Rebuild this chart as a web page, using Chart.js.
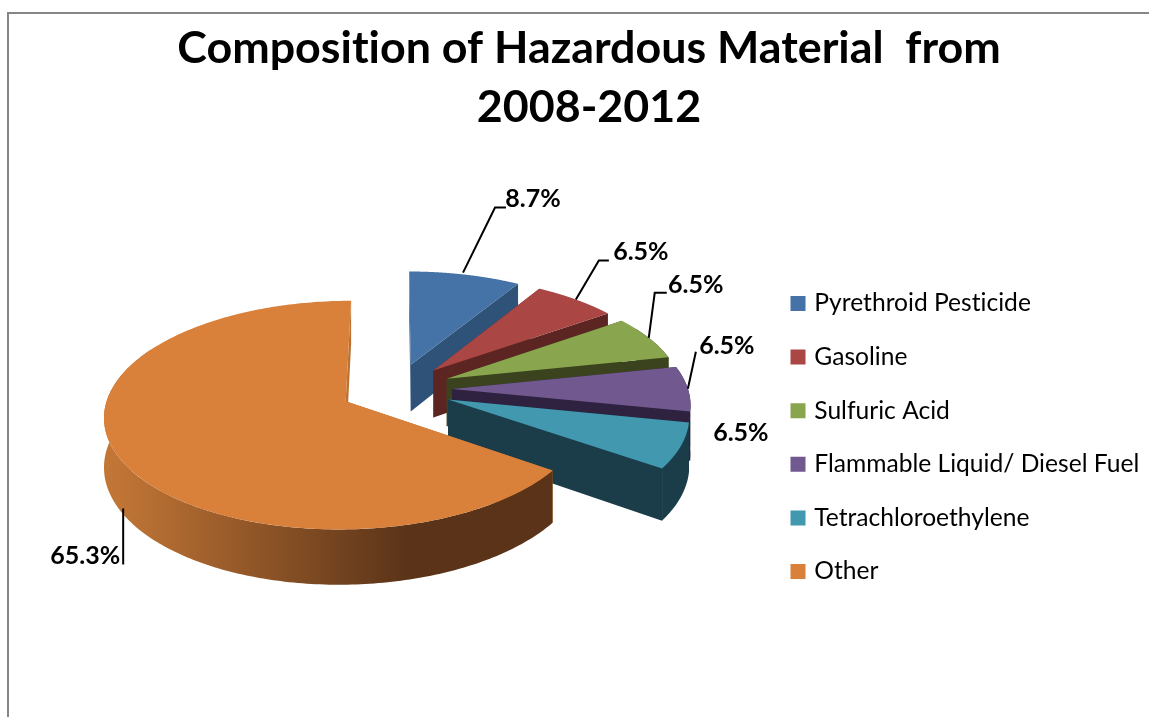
<!DOCTYPE html>
<html>
<head>
<meta charset="utf-8">
<title>Composition of Hazardous Material</title>
<script src="https://cdn.jsdelivr.net/npm/chart.js@4/dist/chart.umd.min.js"></script>
<style>
    html, body { margin: 0; background: #fff; overflow: hidden; }
    #frame {
        position: absolute; left: 7px; top: 12px; width: 1142px; height: 705px;
        border-left: 2px solid #868686; border-top: 2px solid #868686; overflow: hidden;
    }
    canvas { display: block; }
</style>
</head>
<body>
<div id="frame"><canvas id="pie-chart" width="1182" height="703"></canvas></div>
<script>
const categorias = ['Pyrethroid Pesticide', 'Gasoline', 'Sulfuric Acid', 'Flammable Liquid/ Diesel Fuel', 'Tetrachloroethylene', 'Other'];
const valores = [8.7, 6.5, 6.5, 6.5, 6.5, 65.3];
const titulo = ['Composition of Hazardous Material  from', '2008-2012'];

const coresTopo = ['#4572A7', '#AA4643', '#89A54E', '#71588F', '#4198AF', '#D9803B'];
const coresLado = ['#2F5278', '#5C2522', '#3A431E', '#2E2240', '#1B3C49', '#B9722F'];

// flat pie -> tilted view, the numbers were fitted on the picture
const vista = { explode: 56, k: 0.465, p: 0.000504, altura: 48, dx: 0 };
// leader line points and label centre, relative to the rim point of each slice
const guias = [
    [[[-2, -2], [30, -67], [41, -67]], [68, -76]],
    [[[0, 0], [23, -39], [33, -39]], [65, -48]],
    [[[0, 0], [6, -45], [18, -45]], [47, -53]],
    [[[0, 0], [8, -37]], [39, -43]],
    [[], [60, -13]],
    [[[5, 52], [5, 108]], [-33, 99]]
];

const pizza3d = {
    id: 'pizza3d',
    beforeDraw(chart) {
        // no "ti" ligature in the texts
        chart.ctx.textRendering = 'optimizeSpeed';
    },
    afterLayout(chart) {
        chart.legend.left = 756;
        chart.legend.top += 110;
        chart.legend.bottom += 110;
        vista.dx = 396 - 9 - (chart.chartArea.left + chart.chartArea.right) / 2;
    },
    beforeDatasetDraw(chart, args) {
        const ctx = chart.ctx;
        const arcos = args.meta.data;

        arcos.forEach((arco, i) => {
            const meio = (arco.startAngle + arco.endAngle) / 2;
            const ox = vista.explode * Math.cos(meio);
            const oy = vista.explode * Math.sin(meio);

            const projeta = (x, y, h) => {
                const u = x - arco.x + ox;
                const v = y - arco.y + oy;
                const w = 1 / (1 - vista.p * v);
                return { x: arco.x + vista.dx + u * w, y: arco.y + v * vista.k * w + (h || 0) * w };
            };
            const borda = (a, h) => projeta(
                arco.x + arco.outerRadius * Math.cos(a),
                arco.y + arco.outerRadius * Math.sin(a), h);

            // walls first
            const poligono = (pontos, cor) => {
                ctx.beginPath();
                pontos.forEach(p => ctx.lineTo(p.x, p.y));
                ctx.closePath();
                ctx.fillStyle = cor;
                ctx.fill();
            };
            const centro = h => projeta(arco.x, arco.y, h);
            const H = vista.altura;
            poligono([centro(0), borda(arco.startAngle, 0), borda(arco.startAngle, H), centro(H)], coresLado[i]);
            poligono([centro(0), borda(arco.endAngle, 0), borda(arco.endAngle, H), centro(H)], coresLado[i]);

            const topo = [], baixo = [];
            const passos = Math.ceil((arco.endAngle - arco.startAngle) * 60);
            for (let n = 0; n <= passos; n++) {
                const a = arco.startAngle + (arco.endAngle - arco.startAngle) * n / passos;
                // the back of the rim is never seen
                if (Math.sin(a) < -0.5) continue;
                topo.push(borda(a, 0));
                baixo.unshift(borda(a, H));
            }
            let corBorda = coresLado[i];
            if (i === arcos.length - 1) {
                corBorda = ctx.createLinearGradient(105, 0, 400, 0);
                corBorda.addColorStop(0, '#C27636');
                corBorda.addColorStop(1, '#5A3318');
            }
            poligono(topo.concat(baixo), corBorda);

            // top face: the library draws the arc, its path goes through the projection
            const lineToOriginal = CanvasRenderingContext2D.prototype.lineTo;
            ctx.lineTo = (x, y) => {
                const p = projeta(x, y);
                lineToOriginal.call(ctx, p.x, p.y);
            };
            ctx.moveTo = ctx.lineTo;
            ctx.arc = (x, y, r, a0, a1) => {
                const n = 120;
                for (let j = 0; j <= n; j++) {
                    const a = a0 + (a1 - a0) * j / n;
                    ctx.lineTo(x + r * Math.cos(a), y + r * Math.sin(a));
                }
            };
            arco.draw(ctx);
            delete ctx.lineTo;
            delete ctx.moveTo;
            delete ctx.arc;

            arco.$rim = borda(meio, 0);
        });

        // labels and leader lines
        ctx.save();
        ctx.strokeStyle = '#000';
        ctx.lineWidth = 2;
        ctx.fillStyle = '#000';
        ctx.font = 'bold 25px Lato';
        ctx.textAlign = 'center';
        ctx.textBaseline = 'middle';
        arcos.forEach((arco, i) => {
            const [linha, texto] = guias[i];
            ctx.beginPath();
            linha.forEach(p => ctx.lineTo(arco.$rim.x + p[0], arco.$rim.y + p[1]));
            ctx.stroke();
            ctx.fillText(valores[i].toFixed(1) + '%', arco.$rim.x + texto[0], arco.$rim.y + texto[1]);
        });
        ctx.restore();
        return false;
    }
};

const ctx1 = document.getElementById('pie-chart');
const chart1 = new Chart(ctx1, {
    type: 'pie',
    data: {
        labels: categorias,
        datasets: [{
            data: valores,
            backgroundColor: coresTopo,
            borderWidth: 0,
            radius: 236
        }]
    },
    options: {
        responsive: false,
        animation: false,
        layout: { padding: { bottom: 76, right: 22 } },
        plugins: {
            title: {
                display: true,
                text: titulo,
                color: '#000',
                font: { family: 'Lato', size: 44.8, weight: 'bold', lineHeight: 1.32 },
                padding: { top: 5, bottom: 0 }
            },
            legend: {
                position: 'right',
                labels: {
                    color: '#000',
                    font: { family: 'Lato', size: 24.6 },
                    boxWidth: 8,
                    boxHeight: 8,
                    padding: 29,
                    generateLabels(chart) {
                        return categorias.map((nome, i) => ({
                            text: nome,
                            fillStyle: coresTopo[i],
                            strokeStyle: coresTopo[i],
                            lineWidth: 7,
                            index: i
                        }));
                    }
                }
            },
            tooltip: { enabled: false }
        }
    },
    plugins: [pizza3d]
});
</script>
</body>
</html>
